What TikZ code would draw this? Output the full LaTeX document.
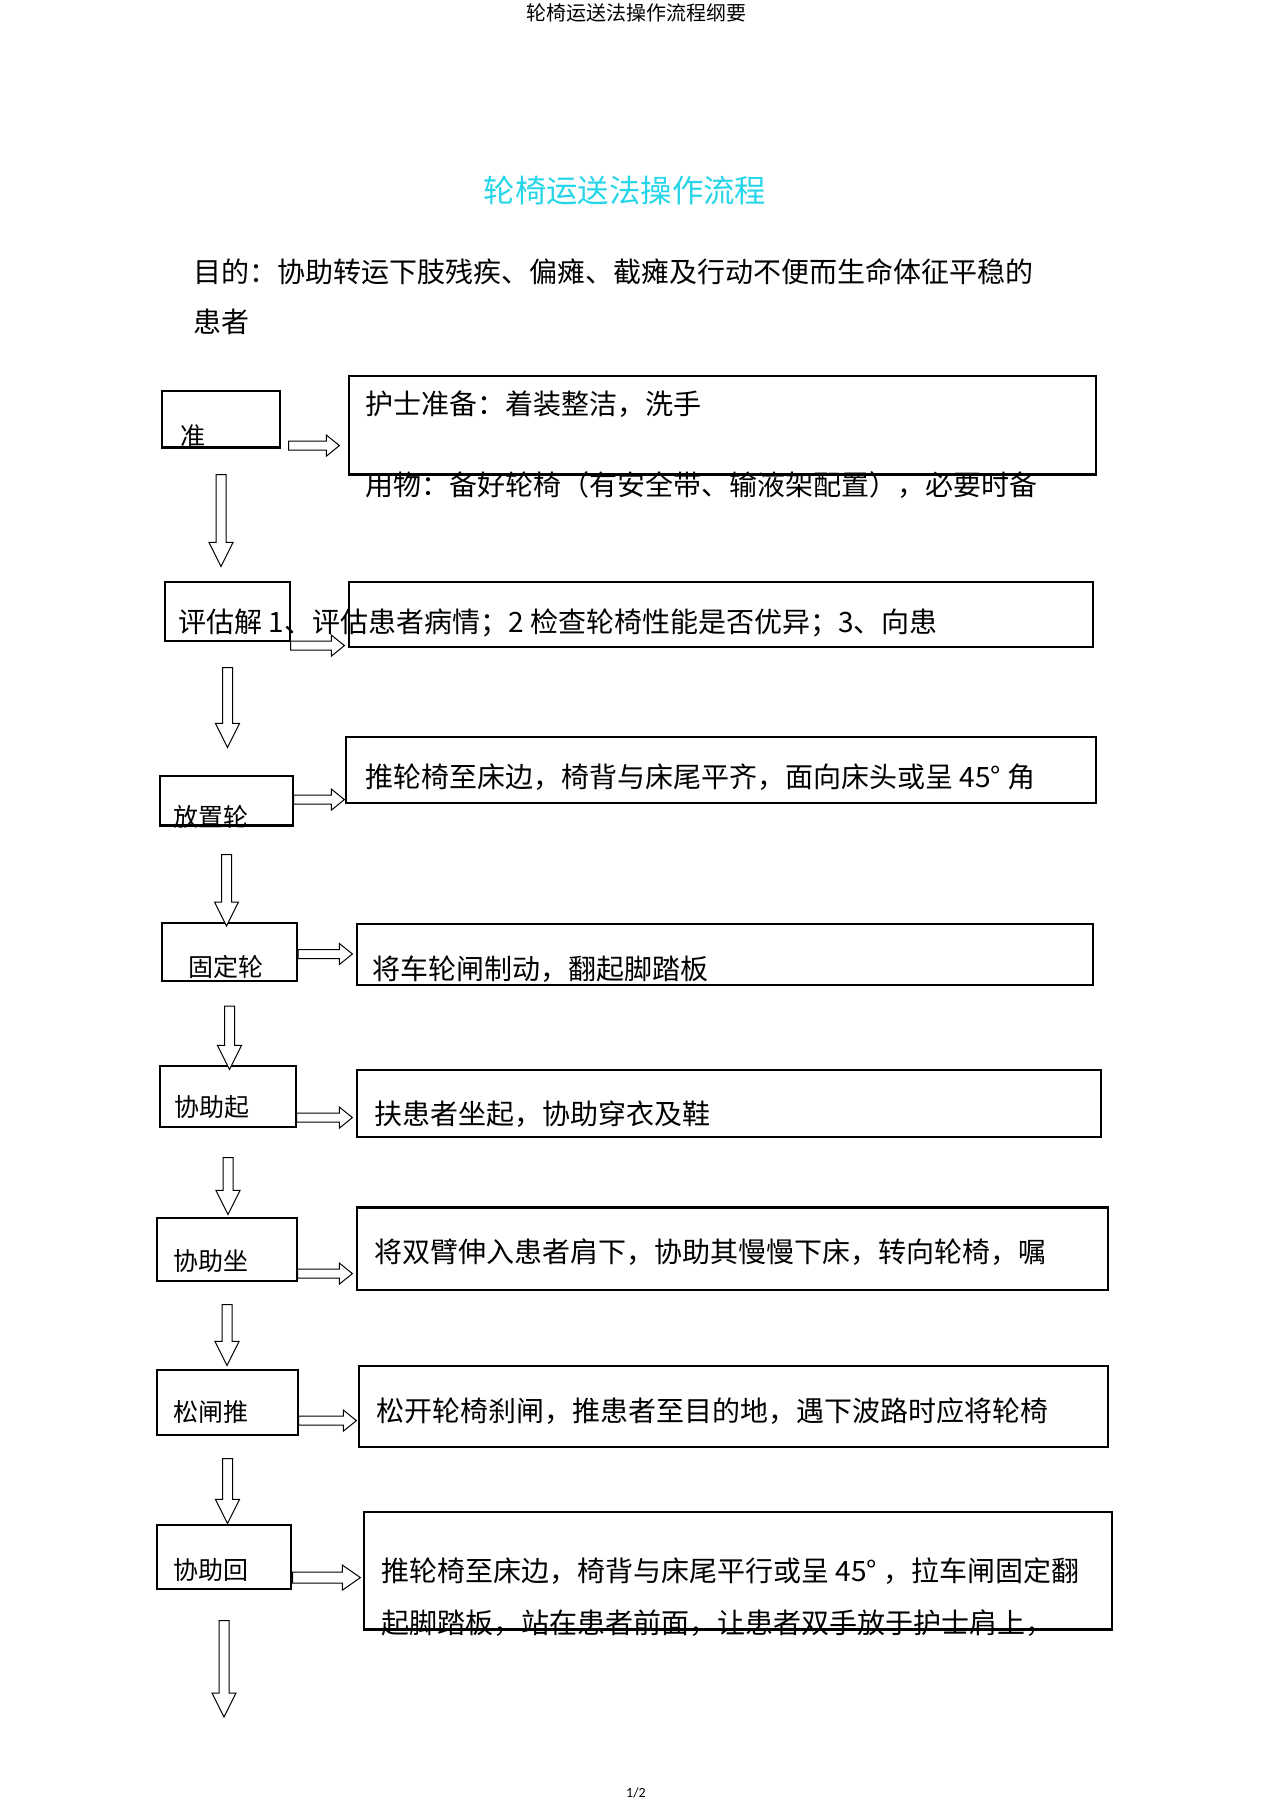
\documentclass[tikz,border=0pt]{standalone}
\usepackage{fontspec}
\usepackage{tikz}
\usetikzlibrary{calc,fit}
\newfontfamily\cjk{Noto Sans CJK SC}
\newfontfamily\pagefont{Carlito}
\definecolor{titleclr}{RGB}{38,214,232}
\tikzset{ %
  ,lbox/.style={draw, line width=0.6pt, inner sep=0}
  ,rbox/.style={draw, line width=0.6pt, inner sep=0}
  ,thickedge/.style={line width=1.5pt}
  ,ltxt/.style={font={\cjk\fontsize{12.5}{15}\selectfont}, inner sep=0, anchor=west}
  ,rtxt/.style={font={\cjk\fontsize{14}{17}\selectfont}, inner sep=0, anchor=west}
  ,darr/.style args={#1/#2/#3}{draw, fill=white, line width=0.5pt,
    to path={let \p1=(\tikztostart), \p2=(\tikztotarget) in
      (\x1-#1pt,\y1) -- (\x1-#1pt,\y2+#3pt) -- (\x1-#2pt,\y2+#3pt) -- (\x1,\y2)
      -- (\x1+#2pt,\y2+#3pt) -- (\x1+#1pt,\y2+#3pt) -- (\x1+#1pt,\y1) -- cycle}}
  ,darr/.default=2.5/6/12
  ,rarr/.style args={#1/#2/#3}{draw, fill=white, line width=0.5pt,
    to path={let \p1=(\tikztostart), \p2=(\tikztotarget) in
      (\x1,\y1+#1pt) -- (\x2-#3pt,\y1+#1pt) -- (\x2-#3pt,\y1+#2pt) -- (\x2,\y1)
      -- (\x2-#3pt,\y1-#2pt) -- (\x2-#3pt,\y1-#1pt) -- (\x1,\y1-#1pt) -- cycle}}
  ,rarr/.default=2.25/5.25/6.5
}
\begin{document}
\begin{tikzpicture}[x=0.5pt, y=-0.5pt]
  \useasboundingbox (0,0) rectangle (1274,1804);
  \node[font={\cjk\fontsize{10}{12}\selectfont}] (head) at (636,13) {轮椅运送法操作流程纲要};
  \node[font={\cjk\fontsize{15.7}{19}\selectfont}, text=titleclr] (title) at (625,191) {轮椅运送法操作流程};
  \node[rtxt] (aim) at (193,272) {目的：协助转运下肢残疾、偏瘫、截瘫及行动不便而生命体征平稳的};
  \node[rtxt] (aim2) at (193,322) {患者};

  % left column
  \node[lbox, fit={(162,391) (280,447)}] (zhun) {};
  \node[lbox, fit={(165,582) (290,641)}] (pinggu) {};
  \node[lbox, fit={(160,776) (293,825)}] (fangzhi) {};
  \node[lbox, line width=1pt, fit={(162,923) (297,981)}] (guding) {};
  \node[lbox, fit={(160,1066) (296,1127)}] (qi) {};
  \node[lbox, fit={(157,1218) (297,1281)}] (zuo) {};
  \node[lbox, fit={(157,1370) (298,1435)}] (song) {};
  \node[lbox, fit={(157,1525) (291,1589)}] (hui) {};
  \coordinate (end) at (226,1717);

  % right column
  \node[rbox, fit={(349,376) (1096,474)}] (zhun-r) {};
  \node[rbox, fit={(349,582) (1093,647)}] (pinggu-r) {};
  \node[rbox, fit={(346,737) (1096,803)}] (fangzhi-r) {};
  \node[rbox, fit={(357,924) (1093,985)}] (guding-r) {};
  \node[rbox, fit={(357,1070) (1101,1137)}] (qi-r) {};
  \node[rbox, fit={(357,1208) (1108,1290)}] (zuo-r) {};
  \node[rbox, fit={(359,1366) (1108,1447)}] (song-r) {};
  \node[rbox, fit={(364,1512) (1112,1629)}] (hui-r) {};

  \draw[thickedge] (zhun.south west) -- (zhun.south east);
  \draw[thickedge] (fangzhi.south west) -- (fangzhi.south east);
  \draw[line width=1pt] (zhun-r.south west) -- (zhun-r.south east);
  \draw[thickedge] (zuo-r.north west) -- (zuo-r.north east);
  \draw[line width=1pt] (hui-r.south west) -- (hui-r.south east);

  % down arrows
  \draw[darr] ($(zhun.south)+(0,27)$) to ($(pinggu.north)+(0,-15)$);
  \draw[darr] ($(pinggu.south)+(0,26)$) to ($(fangzhi.north)+(0,-28)$);
  \draw[darr] ($(fangzhi.south)+(0,29)$) to ($(guding.north)+(0,4)$);
  \draw[darr] ($(guding.south)+(0,24)$) to ($(qi.north)+(0,4)$);
  \draw[darr] ($(qi.south)+(0,30)$) to ($(zuo.north)+(0,-3)$);
  \draw[darr] ($(zuo.south)+(0,23)$) to ($(song.north)+(0,-4)$);
  \draw[darr] ($(song.south)+(0,23)$) to ($(hui.north)+(0,-1)$);
  \draw[darr] ($(hui.south)+(0,31)$) to (end);

  % right arrows
  \draw[rarr] ($(zhun.south east)+(8,-2)$) to ($(zhun-r.west)+(-9,0)$);
  \draw[rarr] ($(pinggu.south east)+(0,4)$) to ($(pinggu-r.west)+(-4,0)$);
  \draw[rarr] ($(fangzhi.south east)+(0,-26)$) to ($(fangzhi-r.west)+(-1,0)$);
  \draw[rarr] ($(guding.south east)+(0,-28)$) to ($(guding-r.west)+(-4,0)$);
  \draw[rarr] ($(qi.south east)+(0,-10)$) to ($(qi-r.west)+(-4,0)$);
  \draw[rarr] ($(zuo.south east)+(0,-8)$) to ($(zuo-r.west)+(-4,0)$);
  \draw[rarr] ($(song.south east)+(0,-15)$) to ($(song-r.west)+(-2,0)$);
  \draw[rarr=2.75/6.25/9] ($(hui.south east)+(1,-12)$) to ($(hui-r.west)+(-3,0)$);

  % texts
  \node[ltxt] (zhun-t) at (180,436) {准};
  \node[rtxt] (pinggu-t) at (178,623) {评估解 1、评估患者病情；2 检查轮椅性能是否优异；3、向患};
  \node[ltxt] (fangzhi-t) at (173,817) {放置轮};
  \node[ltxt] (guding-t) at (188,967) {固定轮};
  \node[ltxt] (qi-t) at (174,1107) {协助起};
  \node[ltxt] (zuo-t) at (173,1261) {协助坐};
  \node[ltxt] (song-t) at (173,1412) {松闸推};
  \node[ltxt] (hui-t) at (173,1570) {协助回};

  \node[rtxt] (zhun-r1) at (365,404) {护士准备：着装整洁，洗手};
  \node[rtxt] (zhun-r2) at (365,485) {用物：备好轮椅（有安全带、输液架配置），必要时备};
  \node[rtxt] (fangzhi-rt) at (365,777) {推轮椅至床边，椅背与床尾平齐，面向床头或呈 45°\ 角};
  \node[rtxt] (guding-rt) at (372,969) {将车轮闸制动，翻起脚踏板};
  \node[rtxt] (qi-rt) at (374,1114) {扶患者坐起，协助穿衣及鞋};
  \node[rtxt] (zuo-rt) at (374,1252) {将双臂伸入患者肩下，协助其慢慢下床，转向轮椅，嘱};
  \node[rtxt] (song-rt) at (376,1411) {松开轮椅刹闸，推患者至目的地，遇下波路时应将轮椅};
  \node[rtxt] (hui-r1) at (381,1571) {推轮椅至床边，椅背与床尾平行或呈 45° ，拉车闸固定翻};
  \node[rtxt] (hui-r2) at (381,1623) {起脚踏板，站在患者前面，让患者双手放于护士肩上，};

  \node[font={\pagefont\fontsize{7}{8}\selectfont}] (page) at (636,1793) {1/2};
\end{tikzpicture}
\end{document}
